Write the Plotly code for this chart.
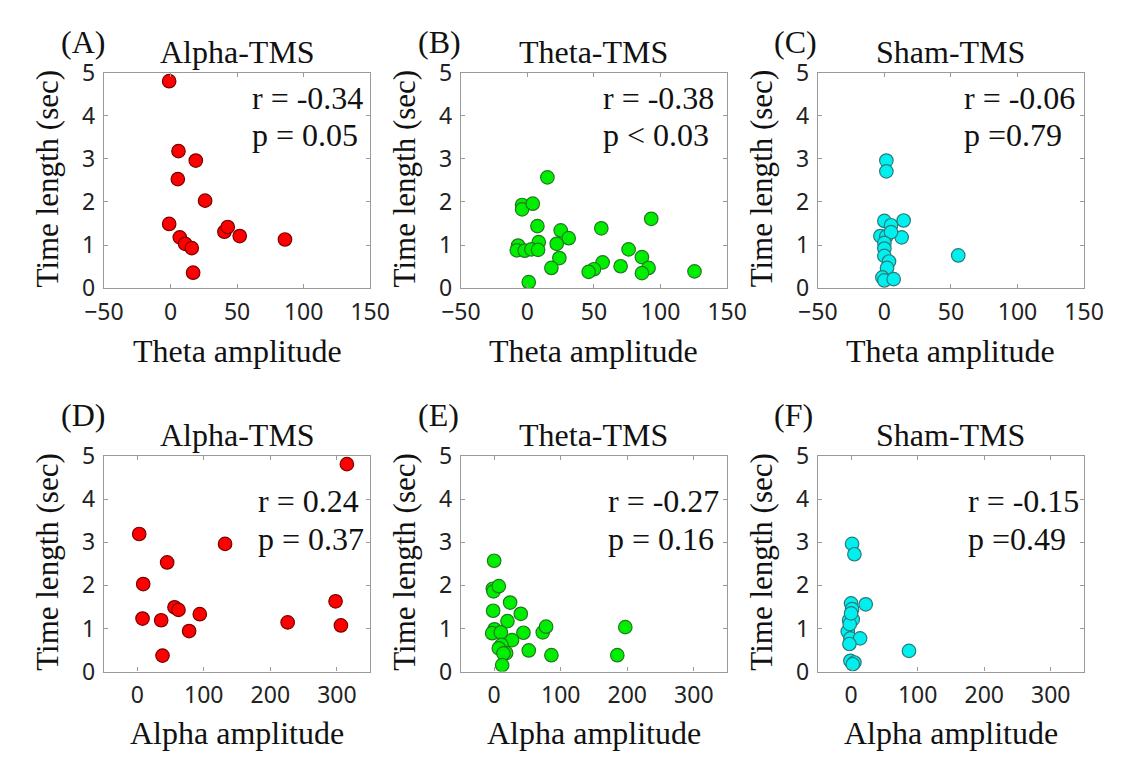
import plotly.graph_objects as go

W, H = 1133, 769

# ---------------- data ----------------
alpha_theta_x = [-1, 6, 19, 5.5, 26, -1, 7, 11, 16, 17, 40.5, 43, 52, 86]
alpha_theta_y = [4.80, 3.18, 2.96, 2.53, 2.03, 1.49, 1.18, 1.03, 0.93, 0.36, 1.31, 1.42, 1.21, 1.13]

theta_theta_x = [15, -4, -4, 4, 7.5, 25, 31, 22, 8.5, -7, -8, -2, 3, 8, 24, 18, 1,
                 55.5, 56.5, 50, 46, 70, 76, 86, 91, 86, 93, 125.5]
theta_theta_y = [2.57, 1.93, 1.83, 1.96, 1.44, 1.34, 1.16, 1.03, 1.07, 0.99, 0.88, 0.87, 0.90, 0.89,
                 0.70, 0.47, 0.14, 1.39, 0.60, 0.44, 0.38, 0.51, 0.90, 0.72, 0.47, 0.35, 1.61, 0.39]

sham_theta_x = [1.5, 1.5, 0, 5, 14.5, 13, -3, 1.5, 5, 0, 0, 0, 3.5, 2, -1.5, 0, 7, 55.5]
sham_theta_y = [2.96, 2.71, 1.56, 1.46, 1.57, 1.18, 1.21, 1.20, 1.30, 1.05, 0.92, 0.75, 0.62, 0.47,
                0.25, 0.18, 0.21, 0.76]

alpha_alpha_x = [315, 3, 132, 45, 9, 8, 36, 56, 62, 94, 78, 38, 226, 298, 306]
alpha_alpha_y = [4.81, 3.19, 2.96, 2.53, 2.03, 1.23, 1.19, 1.49, 1.43, 1.33, 0.94, 0.37, 1.14, 1.63, 1.07]

theta_alpha_x = [0, -2, -1, 7, 24, -1.5, 40, 20, 0.5, -3, 10, 44, 73, 78, 27, 11, 7, 18, 14, 12,
                 52, 86, 185, 197]
theta_alpha_y = [2.57, 1.92, 1.86, 1.98, 1.60, 1.41, 1.34, 1.17, 0.98, 0.89, 0.91, 0.90, 0.91, 1.04,
                 0.73, 0.62, 0.54, 0.43, 0.42, 0.15, 0.49, 0.38, 0.38, 1.03]

sham_alpha_x = [1.5, 5, 0, 22, 1.5, -3, 2.5, -5, -1, 13.5, -2.5, 87, -1, 5, 2.5, -2, 0]
sham_alpha_y = [2.96, 2.72, 1.58, 1.56, 1.45, 1.19, 1.21, 0.93, 0.77, 0.77, 0.64, 0.48, 0.25, 0.21,
                0.17, 1.10, 1.35]

panel_labels = ["(A)", "(B)", "(C)", "(D)", "(E)", "(F)"]
panel_titles = ["Alpha-TMS", "Theta-TMS", "Sham-TMS", "Alpha-TMS", "Theta-TMS", "Sham-TMS"]
r_texts = ["r = -0.34", "r = -0.38", "r = -0.06", "r = 0.24", "r = -0.27", "r = -0.15"]
p_texts = ["p = 0.05", "p < 0.03", "p =0.79", "p = 0.37", "p = 0.16", "p =0.49"]
x_titles = ["Theta amplitude"] * 3 + ["Alpha amplitude"] * 3
y_title = "Time length (sec)"

row1_xticks = [-50, 0, 50, 100, 150]
row1_xticklabels = ["\u221250", "0", "50", "100", "150"]
row2_xticks = [0, 100, 200, 300]
row2_xticklabels = ["0", "100", "200", "300"]
yticks = [0, 1, 2, 3, 4, 5]

# text positions in data coords (x for r/p left edge, y for r and p)
text_x = [60, 55, 58, 178, 168, 173]
text_y_r = [4.40, 4.40, 4.40, 3.96, 3.96, 3.96]
text_y_p = [3.56, 3.56, 3.56, 3.07, 3.07, 3.07]

series = [
    (alpha_theta_x, alpha_theta_y), (theta_theta_x, theta_theta_y), (sham_theta_x, sham_theta_y),
    (alpha_alpha_x, alpha_alpha_y), (theta_alpha_x, theta_alpha_y), (sham_alpha_x, sham_alpha_y),
]
fills = ["#ff0000", "#00ee00", "#00f0f0"] * 2
edges = ["#7a0000", "#1f7a1f", "#2a7a7a"] * 2

# ---------------- layout geometry (pixels) ----------------
col_left = [87, 457, 827]
plot_w = 276
row_top = [58, 458]
plot_h = 225

SERIF = "Liberation Serif, Times New Roman, serif"
SANS = "Noto Sans, Noto Sans CJK JP, sans-serif"

fig = go.Figure()
annotations = []
for i in range(6):
    r, c = divmod(i, 3)
    ax = "" if i == 0 else str(i + 1)
    xs, ys = series[i]
    fig.add_trace(go.Scatter(
        x=xs, y=ys, mode="markers", xaxis="x" + ax, yaxis="y" + ax,
        marker=dict(size=13.5, color=fills[i], line=dict(color=edges[i], width=1.2)),
        showlegend=False, hoverinfo="x+y"))
    x0 = col_left[c] / W
    x1 = (col_left[c] + plot_w) / W
    y1 = 1 - row_top[r] / H
    y0 = 1 - (row_top[r] + plot_h) / H
    if r == 0:
        xr, tv, tt = [-50, 150], row1_xticks, row1_xticklabels
    else:
        xr, tv, tt = [-50, 350], row2_xticks, row2_xticklabels
    common = dict(showline=True, linecolor="#9a9a9a", linewidth=1.3, mirror="allticks",
                  ticks="inside", ticklen=4, tickcolor="#9a9a9a", tickwidth=1,
                  showgrid=False, zeroline=False,
                  tickfont=dict(family=SANS, size=23, color="#222222"))
    fig.layout["xaxis" + ax] = dict(domain=[x0, x1], range=xr, tickvals=tv, ticktext=tt,
                                    anchor="y" + ax, ticklabelstandoff=3, **common)
    fig.layout["yaxis" + ax] = dict(domain=[y0, y1], range=[0, 5], tickvals=yticks,
                                    anchor="x" + ax, ticklabelstandoff=3, **common)
    cx = (col_left[c] + plot_w / 2) / W
    # title
    title_y = [37, 436][r]
    annotations.append(dict(text=panel_titles[i], x=cx, y=1 - title_y / H, xref="paper", yref="paper",
                            xanchor="center", yanchor="middle", showarrow=False,
                            font=dict(family=SERIF, size=32, color="#111111")))
    # panel label
    lab_y = [26, 415][r]
    annotations.append(dict(text=panel_labels[i], x=(col_left[c] - 47) / W, y=1 - lab_y / H,
                            xref="paper", yref="paper", xanchor="left", yanchor="middle",
                            showarrow=False, font=dict(family=SERIF, size=32, color="#111111")))
    # x title
    xt_y = [348, 747][r]
    annotations.append(dict(text=x_titles[i], x=cx, y=1 - xt_y / H, xref="paper", yref="paper",
                            xanchor="center", yanchor="middle", showarrow=False,
                            font=dict(family=SERIF, size=32, color="#111111")))
    # y title
    annotations.append(dict(text=y_title, x=(col_left[c] - 58) / W,
                            y=1 - (row_top[r] + plot_h / 2 - 2) / H, xref="paper", yref="paper",
                            xanchor="center", yanchor="middle", showarrow=False, textangle=-90,
                            font=dict(family=SERIF, size=31, color="#111111")))
    # r / p text
    for txt, ty in ((r_texts[i], text_y_r[i]), (p_texts[i], text_y_p[i])):
        annotations.append(dict(text=txt, x=text_x[i], y=ty, xref="x" + ax, yref="y" + ax,
                                xanchor="left", yanchor="middle", showarrow=False,
                                font=dict(family=SERIF, size=32, color="#111111")))

fig.update_layout(width=W, height=H, margin=dict(l=0, r=0, t=0, b=0),
                  paper_bgcolor="white", plot_bgcolor="white", annotations=annotations)

fig.write_html("out.html", include_plotlyjs=True, config={"displayModeBar": False})
